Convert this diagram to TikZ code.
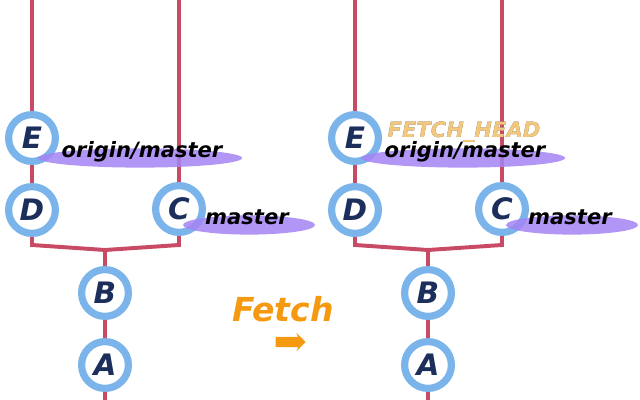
\documentclass[tikz,border=0pt]{standalone}
\usepackage{fontspec}
\setmainfont{DejaVu Sans}
\usepackage[outline]{contour}
\usetikzlibrary{shapes.geometric,shapes.arrows,backgrounds}
\definecolor{lineaRoja}{HTML}{C84A64}
\definecolor{anilloAzul}{HTML}{7AB4EA}
\definecolor{letraAzul}{HTML}{1B2E5C}
\definecolor{resalte}{HTML}{A484F4}
\definecolor{naranja}{HTML}{F59A10}
\definecolor{fetchFondo}{HTML}{F4C87C}
\contourlength{0.9pt}

\begin{document}
\begin{tikzpicture}[
            x=0.025cm, y=-0.025cm,
            commit/.style={circle, draw=anilloAzul, line width=0.18cm, fill=white, minimum size=1.17cm, inner sep=0pt,
                font=\fontsize{21}{21}\selectfont\bfseries\itshape, text=letraAzul},
            rama/.style={font=\fontsize{15}{15}\selectfont\bfseries\itshape, text=black},
            halo/.style={ellipse, fill=resalte, fill opacity=0.85, inner sep=0pt, minimum height=0.48cm},
            arista/.style={lineaRoja, line width=2.8pt}
        ]
\useasboundingbox (0,0) rectangle (640,400);

% before fetch
\node[commit] (e1) at (32,138) {E};
\node[commit] (d1) at (32,210) {D};
\node[commit] (c1) at (179,209) {C};
\node[commit] (b1) at (105,293) {B};
\node[commit] (a1) at (105,365) {A};
\coordinate (topE1) at (32,0);
\coordinate (topC1) at (179,0);
\coordinate (jl1) at (32,245);
\coordinate (jm1) at (105,250);
\coordinate (jr1) at (179,245);
\coordinate (fin1) at (105,400);

\node[halo, minimum width=5.1cm] (hom1) at (140,158) {};
\node[halo, minimum width=3.3cm] (hm1) at (249,225) {};
\node[rama] (om1) at (142,152) {origin/master};
\node[rama] (m1) at (247,217) {master};

% after fetch
\node[commit] (e2) at (355,138) {E};
\node[commit] (d2) at (355,210) {D};
\node[commit] (c2) at (502,209) {C};
\node[commit] (b2) at (428,293) {B};
\node[commit] (a2) at (428,365) {A};
\coordinate (topE2) at (355,0);
\coordinate (topC2) at (502,0);
\coordinate (jl2) at (355,245);
\coordinate (jm2) at (428,250);
\coordinate (jr2) at (502,245);
\coordinate (fin2) at (428,400);

\node[halo, minimum width=5.1cm] (hom2) at (463,158) {};
\node[halo, minimum width=3.3cm] (hm2) at (572,225) {};
\node[rama] (fh) at (464,132)
    {\contour{gray!75!black}{\textcolor{fetchFondo}{FETCH\_HEAD}}};
\node[rama] (om2) at (465,152) {origin/master};
\node[rama] (m2) at (570,217) {master};

% fetch
\node[font=\fontsize{23.5}{23.5}\selectfont\bfseries\itshape, text=naranja] (fetch) at (283,309) {Fetch};
\node[single arrow, fill=naranja, minimum height=0.75cm, inner xsep=0pt, inner ysep=0.12cm,
    single arrow head extend=0.1cm, single arrow head indent=0.04cm] (flecha) at (288,342) {};

\begin{scope}[on background layer]
\draw[arista] (topE1) -- (e1);
\draw[arista] (e1) -- (d1);
\draw[arista] (topC1) -- (c1);
\draw[arista] (d1) -- (jl1) -- (jm1) -- (jr1) -- (c1);
\draw[arista] (jm1) -- (b1);
\draw[arista] (b1) -- (a1);
\draw[arista] (a1) -- (fin1);

\draw[arista] (topE2) -- (e2);
\draw[arista] (e2) -- (d2);
\draw[arista] (topC2) -- (c2);
\draw[arista] (d2) -- (jl2) -- (jm2) -- (jr2) -- (c2);
\draw[arista] (jm2) -- (b2);
\draw[arista] (b2) -- (a2);
\draw[arista] (a2) -- (fin2);
\end{scope}
\end{tikzpicture}
\end{document}
